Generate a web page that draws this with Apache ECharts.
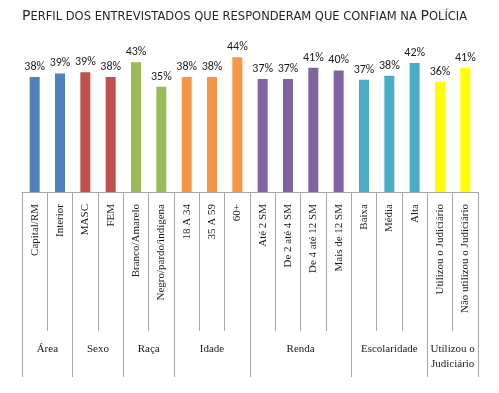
<!DOCTYPE html>
<html><head><meta charset="utf-8">
<script src="https://cdn.jsdelivr.net/npm/echarts@6/dist/echarts.min.js"></script>
<style>html,body{margin:0;padding:0;background:#fff}#c{width:499px;height:393px}</style>
</head><body><div id="c"></div>
<script>
const categories = ["Capital/RM","Interior","MASC","FEM","Branco/Amarelo","Negro/pardo/indígena","18 A 34","35 A 59","60+","Até 2 SM","De 2 até 4 SM","De 4 até 12 SM","Mais de 12 SM","Baixa","Média","Alta","Utilizou o Judiciário","Não utilizou o Judiciário"];
const values = [37.8,39.0,39.4,37.8,42.7,34.6,37.8,37.8,44.3,37.2,37.2,40.9,40.0,36.9,38.2,42.4,36.2,40.8];
const valueLabels = ["38%","39%","39%","38%","43%","35%","38%","38%","44%","37%","37%","41%","40%","37%","38%","42%","36%","41%"];
const groups = ["Área","Sexo","Raça","Idade","Renda","Escolaridade","Utilizou o\nJudiciário"];
const groupSizes = [2,2,2,3,4,3,2];
const groupColors = ["#4f81bd","#c0504d","#9bbb59","#f79646","#8064a2","#4bacc6","#ffff00"];

const barColors = [];
const groupBounds = [0];
const groupCenters = [];
groupSizes.forEach((n,i)=>{
  const start = groupBounds[groupBounds.length-1];
  for(let k=0;k<n;k++) barColors.push(groupColors[i]);
  groupCenters.push(start + n/2);
  groupBounds.push(start + n);
});

const chart = echarts.init(document.getElementById('c'), null, {renderer:'canvas'});
const tc = '#26262e';
chart.setOption({
  animation:false,
  title:{
    left:17, top:0,
    text:'{b|P}{s|ERFIL DOS ENTREVISTADOS QUE RESPONDERAM QUE CONFIAM NA }{b|P}{s|OLÍCIA}',
    textStyle:{
      fontWeight:'normal',
      rich:{
        b:{fontFamily:'DejaVu Sans',fontWeight:'normal',fontSize:14,color:tc,verticalAlign:'bottom',lineHeight:18},
        s:{fontFamily:'DejaVu Sans',fontWeight:'normal',fontSize:11.5,color:tc,verticalAlign:'bottom',lineHeight:18}
      }
    }
  },
  grid:{left:22,right:21,top:40,bottom:201,containLabel:false},
  xAxis:[{
    type:'category',
    data:categories,
    axisLine:{lineStyle:{color:'#a6a6a6',width:1}},
    axisTick:{show:true,interval:0,length:139,lineStyle:{color:'#a6a6a6'}},
    axisLabel:{interval:0,rotate:90,margin:12,fontFamily:'Liberation Serif',fontSize:11,color:'#1a1a1a'}
  },{
    type:'value',
    min:0,max:18,
    position:'bottom',
    axisLine:{show:false},
    splitLine:{show:false},
    axisTick:{show:true,length:185,customValues:groupBounds,lineStyle:{color:'#a6a6a6'}},
    axisLabel:{
      customValues:groupCenters,
      margin:150,
      fontFamily:'Liberation Serif',fontSize:11,color:'#1a1a1a',lineHeight:15,
      formatter:(v)=>{const i=groupCenters.indexOf(v);return i>=0?groups[i]:'';}
    }
  }],
  yAxis:{type:'value',min:0,max:50,show:false},
  series:[{
    type:'bar',
    xAxisIndex:0,
    data:values.map((v,i)=>({value:v,itemStyle:{color:barColors[i]}})),
    barWidth:10,
    label:{
      show:true,position:'top',distance:4,
      fontFamily:'Carlito, Lato, "Open Sans", sans-serif',fontSize:12,color:'#1a1a1a',
      formatter:(p)=>valueLabels[p.dataIndex]
    }
  }]
});
</script></body></html>
